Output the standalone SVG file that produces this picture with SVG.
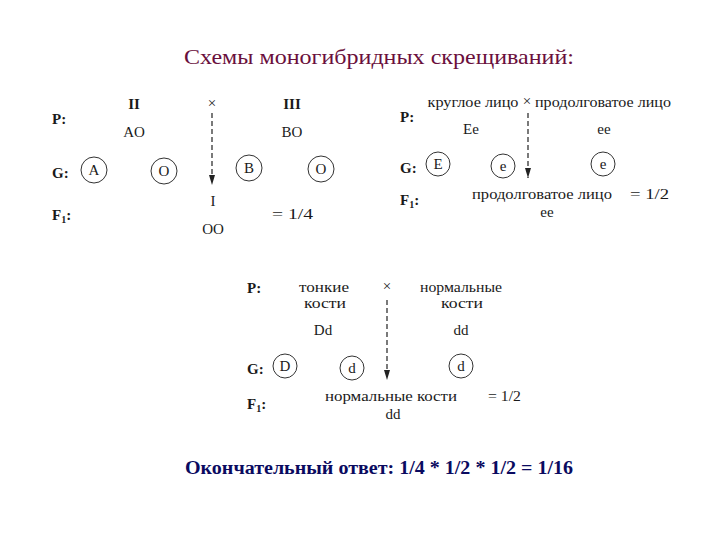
<svg xmlns="http://www.w3.org/2000/svg" width="720" height="540" viewBox="0 0 720 540">
<defs>
<style>
.t{font-family:"Liberation Serif","DejaVu Serif",serif;font-size:15px;fill:#1a1a1a}
.c{text-anchor:middle}
.lb{font-family:"Liberation Serif","DejaVu Serif",serif;font-size:15px;font-weight:bold;fill:#1a1a1a}
.g{fill:none;stroke:#333;stroke-width:1}
.d{stroke:#333;stroke-width:1.3;stroke-dasharray:5 3;fill:none}
.title{font-family:"Liberation Serif","Times New Roman",serif;font-size:21px;fill:#6a0f3c}
.ans{font-family:"Liberation Serif","Times New Roman",serif;font-size:18px;font-weight:bold;fill:#0a0a60}
</style>
<marker id="ah" viewBox="0 0 10 6" refX="10" refY="3" markerWidth="10" markerHeight="6" orient="auto" markerUnits="userSpaceOnUse">
<path d="M0,0 L10,3 L0,6 Z" fill="#222"/>
</marker>
</defs>
<rect width="720" height="540" fill="#fff"/>

<text id="title" class="title" x="379" y="64" text-anchor="middle" textLength="390" lengthAdjust="spacingAndGlyphs">Схемы моногибридных скрещиваний:</text>

<g id="connectors">
<line class="d" x1="212" y1="113" x2="212" y2="185" marker-end="url(#ah)"/>
<line class="d" x1="528" y1="113" x2="528" y2="178" marker-end="url(#ah)"/>
<line class="d" x1="387" y1="300" x2="387" y2="380" marker-end="url(#ah)"/>
</g>

<g id="cross1">
<text class="lb" x="52" y="124">P:</text>
<text class="t c" x="134" y="109" font-weight="bold">II</text>
<text class="t c" x="212" y="108">×</text>
<text class="t c" x="292" y="109" font-weight="bold">III</text>
<text class="t c" x="134" y="137">AO</text>
<text class="t c" x="292" y="137">BO</text>
<text class="lb" x="52" y="178">G:</text>
<g id="g1A"><circle class="g" cx="94" cy="170" r="13"/><text class="t c" x="94" y="175">A</text></g>
<g id="g1O1"><circle class="g" cx="164" cy="171" r="13"/><text class="t c" x="164" y="176">O</text></g>
<g id="g1B"><circle class="g" cx="249" cy="168" r="13"/><text class="t c" x="249" y="173">B</text></g>
<g id="g1O2"><circle class="g" cx="321" cy="169" r="13"/><text class="t c" x="321" y="174">O</text></g>
<text class="t c" x="213" y="206">I</text>
<text class="lb" x="52" y="220">F<tspan font-size="10" dy="3">1</tspan><tspan dy="-3">:</tspan></text>
<text class="t" x="272" y="219" textLength="41" lengthAdjust="spacingAndGlyphs">= 1/4</text>
<text class="t c" x="213" y="234">OO</text>
</g>

<g id="cross2">
<text class="lb" x="400" y="122">P:</text>
<text class="t c" x="473" y="107" textLength="91" lengthAdjust="spacingAndGlyphs">круглое лицо</text>
<text class="t c" x="527" y="106">×</text>
<text class="t c" x="603" y="107" textLength="136" lengthAdjust="spacingAndGlyphs">продолговатое лицо</text>
<text class="t c" x="471" y="134">Ee</text>
<text class="t c" x="604" y="134">ee</text>
<text class="lb" x="400" y="173">G:</text>
<g id="g2E"><circle class="g" cx="438" cy="164" r="12"/><text class="t c" x="438" y="169">E</text></g>
<g id="g2e1"><circle class="g" cx="503" cy="166" r="12"/><text class="t c" x="503" y="171">e</text></g>
<g id="g2e2"><circle class="g" cx="603" cy="164" r="12"/><text class="t c" x="603" y="169">e</text></g>
<text class="lb" x="400" y="205">F<tspan font-size="10" dy="3">1</tspan><tspan dy="-3">:</tspan></text>
<text class="t c" x="542" y="199" textLength="140" lengthAdjust="spacingAndGlyphs">продолговатое лицо</text>
<text class="t" x="630" y="199" textLength="39" lengthAdjust="spacingAndGlyphs">= 1/2</text>
<text class="t c" x="547" y="217">ee</text>
</g>

<g id="cross3">
<text class="lb" x="247" y="293">P:</text>
<text class="t c" x="324" y="292" textLength="50" lengthAdjust="spacingAndGlyphs">тонкие</text>
<text class="t c" x="325" y="308" textLength="42" lengthAdjust="spacingAndGlyphs">кости</text>
<text class="t c" x="387" y="291">×</text>
<text class="t c" x="461" y="292" textLength="82" lengthAdjust="spacingAndGlyphs">нормальные</text>
<text class="t c" x="462" y="308" textLength="42" lengthAdjust="spacingAndGlyphs">кости</text>
<text class="t c" x="323" y="335">Dd</text>
<text class="t c" x="461" y="335">dd</text>
<text class="lb" x="247" y="374">G:</text>
<g id="g3D"><circle class="g" cx="285" cy="366" r="12"/><text class="t c" x="285" y="371">D</text></g>
<g id="g3d1"><circle class="g" cx="352" cy="368" r="12"/><text class="t c" x="352" y="373">d</text></g>
<g id="g3d2"><circle class="g" cx="461" cy="366" r="12"/><text class="t c" x="461" y="371">d</text></g>
<text class="lb" x="247" y="409">F<tspan font-size="10" dy="3">1</tspan><tspan dy="-3">:</tspan></text>
<text class="t c" x="391" y="401" textLength="132" lengthAdjust="spacingAndGlyphs">нормальные кости</text>
<text class="t" x="488" y="401" textLength="33" lengthAdjust="spacingAndGlyphs">= 1/2</text>
<text class="t c" x="393" y="419">dd</text>
</g>

<text id="answer" class="ans" x="379" y="474" text-anchor="middle" textLength="388" lengthAdjust="spacingAndGlyphs">Окончательный ответ: 1/4 * 1/2 * 1/2 = 1/16</text>
</svg>
